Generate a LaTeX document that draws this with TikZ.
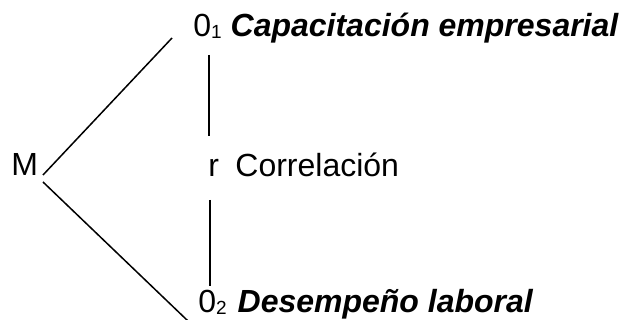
\documentclass[tikz,border=0pt]{standalone}
\usepackage{fontspec}
\setmainfont{Liberation Sans}
\usepackage{tikz}

\newcommand{\idx}[1]{\raisebox{-0.8pt}{\fontsize{9.5}{11}\selectfont #1}}

\begin{document}
\begin{tikzpicture}[x=0.5pt, y=-0.5pt,
    every node/.style={inner sep=0pt, anchor=base west, font=\fontsize{16}{19}\selectfont},
    link/.style={line width=0.75pt}]
  \useasboundingbox (0,0) rectangle (623,320);

  % Labels
  \node (m)    at (11,176)  {M};
  \node (o1)   at (193,37)  {0\idx{1} \textbf{\textit{Capacitación empresarial}}};
  \node (r)    at (208,177) {r};
  \node (corr) at (235,177) {Correlación};
  \node (o2)   at (198,313) {0\idx{2}\hspace{1pt} \textbf{\textit{Desempeño laboral}}};

  % Line ends
  \coordinate (mup)   at (43,175);
  \coordinate (o1end) at (172,38);
  \coordinate (mdown) at (43,182);
  \coordinate (o2end) at (188,321);
  \coordinate (rtop1) at (209,55);
  \coordinate (rtop2) at (209,136);
  \coordinate (rbot1) at (210,200);
  \coordinate (rbot2) at (210,286);

  \draw[link] (mup) -- (o1end);
  \draw[link] (mdown) -- (o2end);
  \draw[link] (rtop1) -- (rtop2);
  \draw[link] (rbot1) -- (rbot2);
\end{tikzpicture}
\end{document}
